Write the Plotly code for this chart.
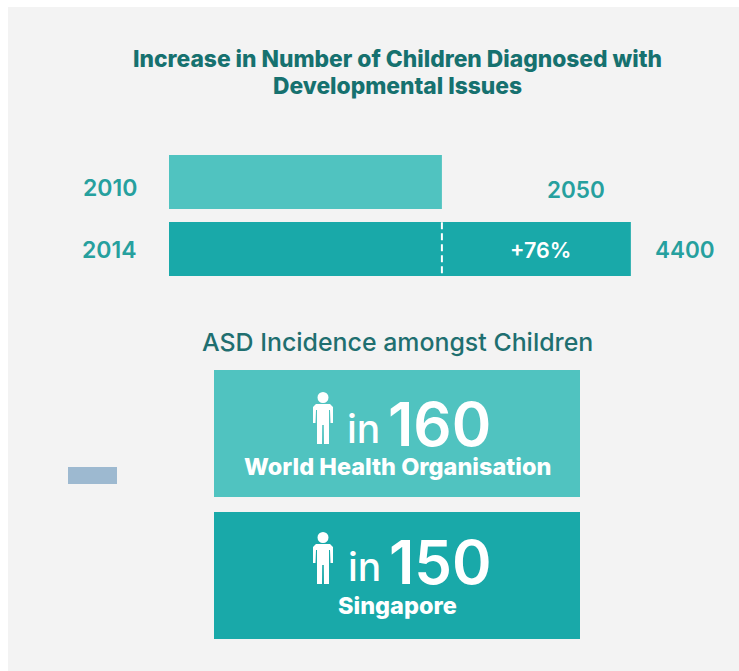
"""Children diagnosed with developmental issues, plus ASD incidence cards."""

import plotly.graph_objects as go

WIDTH, HEIGHT = 739, 671

YEARS = ["2010", "2014"]
DIAGNOSED = [2050, 4400]
INCREASE_LABEL = "+76%"

# the source bars are not drawn from zero, so the axis starts below it
AXIS_START, AXIS_END = -1344, 5745

CARD_VALUES = ["160", "150"]
CARD_SOURCES = ["World Health Organisation", "Singapore"]

TEAL_LIGHT = "#50c3c0"
TEAL_DARK = "#19a9a9"
TITLE_TEAL = "#16716f"
LABEL_TEAL = "#26a09e"
HEADING = "#1f6f70"
PANEL = "#f3f3f3"
FONT = "Inter"


def px_x(x):
    return x / WIDTH


def px_y(y):
    return 1 - y / HEIGHT


def rect(x0, y0, x1, y1, color):
    return dict(type="rect", xref="paper", yref="paper", layer="below",
                x0=px_x(x0), x1=px_x(x1), y0=px_y(y0), y1=px_y(y1),
                fillcolor=color, line_width=0)


def label(x, y, text, size, color, weight=700, xanchor="center"):
    return dict(x=px_x(x), y=px_y(y), xref="paper", yref="paper", text=text,
                showarrow=False, xanchor=xanchor, yanchor="middle",
                font=dict(family=FONT, size=size, color=color, weight=weight))


def person(cx, top):
    # little standing figure, head plus body
    pts = [(-7, 12), (7, 12), (10, 15), (10, 31), (7.5, 31), (7, 18), (6, 18),
           (6, 52), (1, 52), (0.8, 33), (-0.8, 33), (-1, 52), (-6, 52),
           (-6, 18), (-7, 18), (-7.5, 31), (-10, 31), (-10, 15)]
    path = "M" + " L".join(f"{px_x(cx + a):.5f},{px_y(top + b):.5f}" for a, b in pts) + " Z"
    body = dict(type="path", xref="paper", yref="paper", path=path,
                fillcolor="white", line_width=0)
    head = dict(type="circle", xref="paper", yref="paper", fillcolor="white", line_width=0,
                x0=px_x(cx - 5.5), x1=px_x(cx + 5.5), y0=px_y(top + 11), y1=px_y(top))
    return [body, head]


fig = go.Figure(go.Bar(
    y=YEARS,
    x=[v - AXIS_START for v in DIAGNOSED],
    base=AXIS_START,
    orientation="h",
    width=0.806,
    marker=dict(color=[TEAL_LIGHT, TEAL_DARK], line_width=0),
    hovertemplate="%{y}: %{customdata}<extra></extra>",
    customdata=DIAGNOSED,
))

shapes = [
    rect(8, 7, WIDTH, HEIGHT, PANEL),
    rect(68, 467, 117, 484, "#9db9d0"),
    rect(214, 370, 580, 497, TEAL_LIGHT),
    rect(214, 512, 580, 639, TEAL_DARK),
    dict(type="line", xref="x", yref="y", x0=DIAGNOSED[0], x1=DIAGNOSED[0], y0=0.6, y1=1.4,
         line=dict(color="white", width=2, dash="7px,4px")),
]
shapes += person(323, 392) + person(323, 532)

annotations = [
    label(397, 58, "Increase in Number of Children Diagnosed with", 22.8, TITLE_TEAL, 800),
    label(397, 85, "Developmental Issues", 22.8, TITLE_TEAL, 800),
    label(110, 188, YEARS[0], 23, LABEL_TEAL, 600),
    label(110, 250, YEARS[1], 23, LABEL_TEAL, 600),
    label(576, 189, f"{DIAGNOSED[0]}", 22.5, LABEL_TEAL, 600),
    label(685, 250, f"{DIAGNOSED[1]}", 22.5, LABEL_TEAL, 600),
    label(540, 250, INCREASE_LABEL, 21.5, "white", 600),
    label(397, 342, "ASD Incidence amongst Children", 24.9, HEADING, 500),
    label(345, 428, "in", 39, "white", 500, "left"),
    label(386, 424, CARD_VALUES[0], 60, "white", 600, "left"),
    label(397, 467, CARD_SOURCES[0], 23.5, "white", 800),
    label(346, 566, "in", 39, "white", 500, "left"),
    label(387, 562, CARD_VALUES[1], 60, "white", 600, "left"),
    label(397, 605, CARD_SOURCES[1], 23.5, "white", 800),
]

fig.update_layout(
    width=WIDTH, height=HEIGHT,
    margin=dict(l=0, r=0, t=0, b=0),
    paper_bgcolor="white", plot_bgcolor="rgba(0,0,0,0)",
    showlegend=False,
    shapes=shapes,
    annotations=annotations,
    xaxis=dict(domain=[px_x(169), 1], range=[AXIS_START, AXIS_END], visible=False),
    yaxis=dict(
        domain=[px_y(282.5), px_y(148.5)],
        autorange="reversed", type="category",
        visible=False,
    ),
)

fig.write_html(
    "out.html",
    config=dict(displayModeBar=False),
    post_script="document.body.style.margin='0';document.documentElement.style.overflow='hidden';",
)
